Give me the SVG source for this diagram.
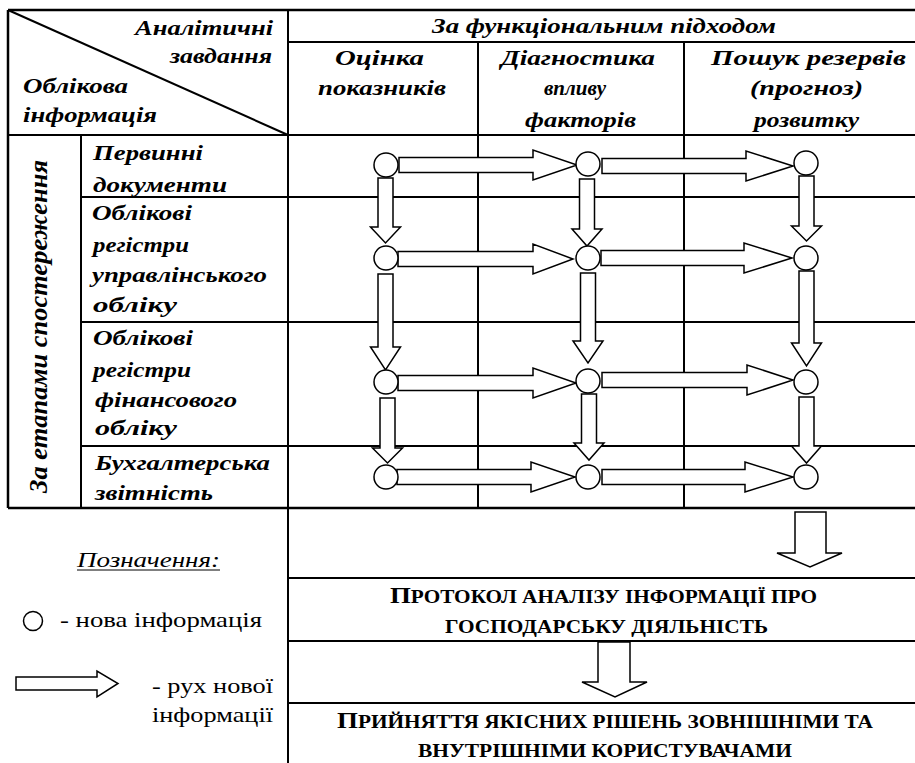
<svg xmlns="http://www.w3.org/2000/svg" width="915" height="763" viewBox="0 0 915 763">
<style>
.ln{stroke:#000;stroke-width:2;fill:none}
.fr{stroke:#000;stroke-width:2.5;fill:none}
.arr{fill:#fff;stroke:#000;stroke-width:1.5;stroke-linejoin:miter}
.nd{fill:#fff;stroke:#000;stroke-width:1.5}
</style>
<rect width="915" height="763" fill="#fff"/>
<g id="table">
<line class="fr" x1="8" y1="10" x2="915" y2="10"/>
<line class="fr" x1="8" y1="10" x2="8" y2="508"/>
<line class="ln" x1="8" y1="10" x2="288" y2="135"/>
<line class="ln" x1="288" y1="10" x2="288" y2="763"/>
<line class="ln" x1="288" y1="42" x2="915" y2="42"/>
<line class="ln" x1="8" y1="135" x2="915" y2="135"/>
<line class="ln" x1="81" y1="135" x2="81" y2="508"/>
<line class="ln" x1="81" y1="197" x2="915" y2="197"/>
<line class="ln" x1="81" y1="322" x2="915" y2="322"/>
<line class="ln" x1="81" y1="446" x2="915" y2="446"/>
<line class="fr" x1="8" y1="508" x2="915" y2="508"/>
<line class="ln" x1="478" y1="42" x2="478" y2="508"/>
<line class="ln" x1="684" y1="42" x2="684" y2="508"/>
<line class="ln" x1="288" y1="578" x2="915" y2="578"/>
<line class="ln" x1="288" y1="641" x2="915" y2="641"/>
<line class="ln" x1="288" y1="703" x2="915" y2="703"/>
</g>
<g id="header">
<text font-family="Liberation Serif, Times New Roman, serif" font-weight="bold" font-style="italic" font-size="21" x="135" y="35" textLength="138" lengthAdjust="spacingAndGlyphs">Аналітичні</text>
<text font-family="Liberation Serif, Times New Roman, serif" font-weight="bold" font-style="italic" font-size="21" x="170" y="63" textLength="102" lengthAdjust="spacingAndGlyphs">завдання</text>
<text font-family="Liberation Serif, Times New Roman, serif" font-weight="bold" font-style="italic" font-size="21" x="23" y="93" textLength="105" lengthAdjust="spacingAndGlyphs">Облікова</text>
<text font-family="Liberation Serif, Times New Roman, serif" font-weight="bold" font-style="italic" font-size="21" x="23" y="122" textLength="134" lengthAdjust="spacingAndGlyphs">інформація</text>
<text font-family="Liberation Serif, Times New Roman, serif" font-weight="bold" font-style="italic" font-size="21" x="432" y="33" textLength="344" lengthAdjust="spacingAndGlyphs">За функціональним підходом</text>
</g>
<g id="col1">
<text font-family="Liberation Serif, Times New Roman, serif" font-weight="bold" font-style="italic" font-size="21" x="335" y="65" textLength="89" lengthAdjust="spacingAndGlyphs">Оцінка</text>
<text font-family="Liberation Serif, Times New Roman, serif" font-weight="bold" font-style="italic" font-size="21" x="318" y="95" textLength="128" lengthAdjust="spacingAndGlyphs">показників</text>
</g>
<g id="col2">
<text font-family="Liberation Serif, Times New Roman, serif" font-weight="bold" font-style="italic" font-size="21" x="501" y="65" textLength="154" lengthAdjust="spacingAndGlyphs">Діагностика</text>
<text font-family="Liberation Serif, Times New Roman, serif" font-weight="bold" font-style="italic" font-size="21" x="575" y="95" text-anchor="middle">впливу</text>
<text font-family="Liberation Serif, Times New Roman, serif" font-weight="bold" font-style="italic" font-size="21" x="525" y="127" textLength="111" lengthAdjust="spacingAndGlyphs">факторів</text>
</g>
<g id="col3">
<text font-family="Liberation Serif, Times New Roman, serif" font-weight="bold" font-style="italic" font-size="21" x="711" y="65" textLength="195" lengthAdjust="spacingAndGlyphs">Пошук резервів</text>
<text font-family="Liberation Serif, Times New Roman, serif" font-weight="bold" font-style="italic" font-size="21" x="750" y="95" textLength="113" lengthAdjust="spacingAndGlyphs">(прогноз)</text>
<text font-family="Liberation Serif, Times New Roman, serif" font-weight="bold" font-style="italic" font-size="21" x="754" y="127" textLength="105" lengthAdjust="spacingAndGlyphs">розвитку</text>
</g>
<g id="stages">
<text font-family="Liberation Serif, Times New Roman, serif" font-weight="bold" font-style="italic" font-size="26" transform="translate(47,326.5) rotate(-90)" text-anchor="middle" textLength="333" lengthAdjust="spacingAndGlyphs">За етапами спостереження</text>
</g>
<g id="row1">
<text font-family="Liberation Serif, Times New Roman, serif" font-weight="bold" font-style="italic" font-size="20" x="93" y="160" textLength="110" lengthAdjust="spacingAndGlyphs">Первинні</text>
<text font-family="Liberation Serif, Times New Roman, serif" font-weight="bold" font-style="italic" font-size="20" x="93" y="192" textLength="134" lengthAdjust="spacingAndGlyphs">документи</text>
</g>
<g id="row2">
<text font-family="Liberation Serif, Times New Roman, serif" font-weight="bold" font-style="italic" font-size="20" x="92" y="220" textLength="100" lengthAdjust="spacingAndGlyphs">Облікові</text>
<text font-family="Liberation Serif, Times New Roman, serif" font-weight="bold" font-style="italic" font-size="20" x="93" y="252" textLength="96" lengthAdjust="spacingAndGlyphs">регістри</text>
<text font-family="Liberation Serif, Times New Roman, serif" font-weight="bold" font-style="italic" font-size="20" x="92" y="282" textLength="175" lengthAdjust="spacingAndGlyphs">управлінського</text>
<text font-family="Liberation Serif, Times New Roman, serif" font-weight="bold" font-style="italic" font-size="20" x="93" y="312" textLength="84" lengthAdjust="spacingAndGlyphs">обліку</text>
</g>
<g id="row3">
<text font-family="Liberation Serif, Times New Roman, serif" font-weight="bold" font-style="italic" font-size="20" x="93" y="345" textLength="100" lengthAdjust="spacingAndGlyphs">Облікові</text>
<text font-family="Liberation Serif, Times New Roman, serif" font-weight="bold" font-style="italic" font-size="20" x="93" y="377" textLength="98" lengthAdjust="spacingAndGlyphs">регістри</text>
<text font-family="Liberation Serif, Times New Roman, serif" font-weight="bold" font-style="italic" font-size="20" x="95" y="407" textLength="142" lengthAdjust="spacingAndGlyphs">фінансового</text>
<text font-family="Liberation Serif, Times New Roman, serif" font-weight="bold" font-style="italic" font-size="20" x="95" y="435" textLength="82" lengthAdjust="spacingAndGlyphs">обліку</text>
</g>
<g id="row4">
<text font-family="Liberation Serif, Times New Roman, serif" font-weight="bold" font-style="italic" font-size="20" x="95" y="470" textLength="175" lengthAdjust="spacingAndGlyphs">Бухгалтерська</text>
<text font-family="Liberation Serif, Times New Roman, serif" font-weight="bold" font-style="italic" font-size="20" x="95" y="500" textLength="118" lengthAdjust="spacingAndGlyphs">звітність</text>
</g>
<g id="connectors">
<polygon class="arr" points="399,157.5 533,157.5 533,150 577,165 533,180 533,172.5 399,172.5"/>
<polygon class="arr" points="602,158.5 746,158.5 746,151 793,166 746,181 746,173.5 602,173.5"/>
<polygon class="arr" points="398,251.5 533,251.5 533,244 573,259 533,274 533,266.5 398,266.5"/>
<polygon class="arr" points="601,250.5 744,250.5 744,243 792,258 744,273 744,265.5 601,265.5"/>
<polygon class="arr" points="398,375.5 533,375.5 533,368 576,383 533,398 533,390.5 398,390.5"/>
<polygon class="arr" points="602,372.5 747,372.5 747,365 793,380 747,395 747,387.5 602,387.5"/>
<polygon class="arr" points="397,469.5 531,469.5 531,462 575,477 531,492 531,484.5 397,484.5"/>
<polygon class="arr" points="602,469.5 745,469.5 745,462 793,477 745,492 745,484.5 602,484.5"/>
<polygon class="arr" points="378,178 393,178 393,227 400.5,227 385.5,243 370.5,227 378,227"/>
<polygon class="arr" points="378,274 393,274 393,347 400.5,347 385.5,370 370.5,347 378,347"/>
<polygon class="arr" points="380,398 395,398 395,448 402.5,448 387.5,463 372.5,448 380,448"/>
<polygon class="arr" points="579.5,179 594.5,179 594.5,229 602,229 587,246 572,229 579.5,229"/>
<polygon class="arr" points="580.5,273 595.5,273 595.5,341 603,341 588,363 573,341 580.5,341"/>
<polygon class="arr" points="581.5,394 596.5,394 596.5,443 604,443 589,460 574,443 581.5,443"/>
<polygon class="arr" points="799,176 814,176 814,226 821.5,226 806.5,241 791.5,226 799,226"/>
<polygon class="arr" points="799,271 814,271 814,343 821.5,343 806.5,366 791.5,343 799,343"/>
<polygon class="arr" points="799,397 814,397 814,446 821.5,446 806.5,463 791.5,446 799,446"/>
<polygon class="arr" points="795,512 826,512 826,553 842,553 810,567 777,553 795,553"/>
<polygon class="arr" points="598,642 630,642 630,682 647,682 615,697 582,682 598,682"/>
</g>
<g id="nodes">
<circle class="nd" cx="386" cy="165" r="12"/>
<circle class="nd" cx="588" cy="164" r="12"/>
<circle class="nd" cx="806" cy="163" r="12"/>
<circle class="nd" cx="386" cy="258" r="12"/>
<circle class="nd" cx="588" cy="258" r="12"/>
<circle class="nd" cx="806" cy="258" r="12"/>
<circle class="nd" cx="386" cy="382" r="12"/>
<circle class="nd" cx="588" cy="381" r="12"/>
<circle class="nd" cx="806" cy="382" r="12"/>
<circle class="nd" cx="386" cy="477" r="12"/>
<circle class="nd" cx="588" cy="477" r="12"/>
<circle class="nd" cx="806" cy="477" r="12"/>
</g>
<g id="protocol">
<text font-family="Liberation Serif, Times New Roman, serif" font-weight="bold" font-size="19" x="390" y="603" textLength="427" lengthAdjust="spacingAndGlyphs"><tspan font-size="24">П</tspan>РОТОКОЛ АНАЛІЗУ ІНФОРМАЦІЇ ПРО</text>
<text font-family="Liberation Serif, Times New Roman, serif" font-weight="bold" font-size="19" x="445" y="633" textLength="323" lengthAdjust="spacingAndGlyphs">ГОСПОДАРСЬКУ ДІЯЛЬНІСТЬ</text>
</g>
<g id="decision">
<text font-family="Liberation Serif, Times New Roman, serif" font-weight="bold" font-size="19" x="337" y="728" textLength="536" lengthAdjust="spacingAndGlyphs"><tspan font-size="24">П</tspan>РИЙНЯТТЯ ЯКІСНИХ РІШЕНЬ ЗОВНІШНІМИ ТА</text>
<text font-family="Liberation Serif, Times New Roman, serif" font-weight="bold" font-size="19" x="418" y="757" textLength="374" lengthAdjust="spacingAndGlyphs">ВНУТРІШНІМИ КОРИСТУВАЧАМИ</text>
</g>
<g id="legend">
<text font-family="Liberation Serif, Times New Roman, serif" font-style="italic" font-size="21" x="77" y="567" textLength="143" lengthAdjust="spacingAndGlyphs">Позначення:</text>
<line x1="77" y1="570" x2="220" y2="570" stroke="#000" stroke-width="1"/>
<circle class="nd" cx="33" cy="621" r="9.5"/>
<text font-family="Liberation Serif, Times New Roman, serif" font-size="21" x="60" y="627" textLength="202" lengthAdjust="spacingAndGlyphs">- нова інформація</text>
<polygon class="arr" points="16,677 97,677 97,671 118,683.5 97,697 97,690 16,690"/>
<text font-family="Liberation Serif, Times New Roman, serif" font-size="21" x="152" y="693" textLength="121" lengthAdjust="spacingAndGlyphs">- рух нової</text>
<text font-family="Liberation Serif, Times New Roman, serif" font-size="21" x="152" y="722" textLength="121" lengthAdjust="spacingAndGlyphs">інформації</text>
</g>
</svg>
